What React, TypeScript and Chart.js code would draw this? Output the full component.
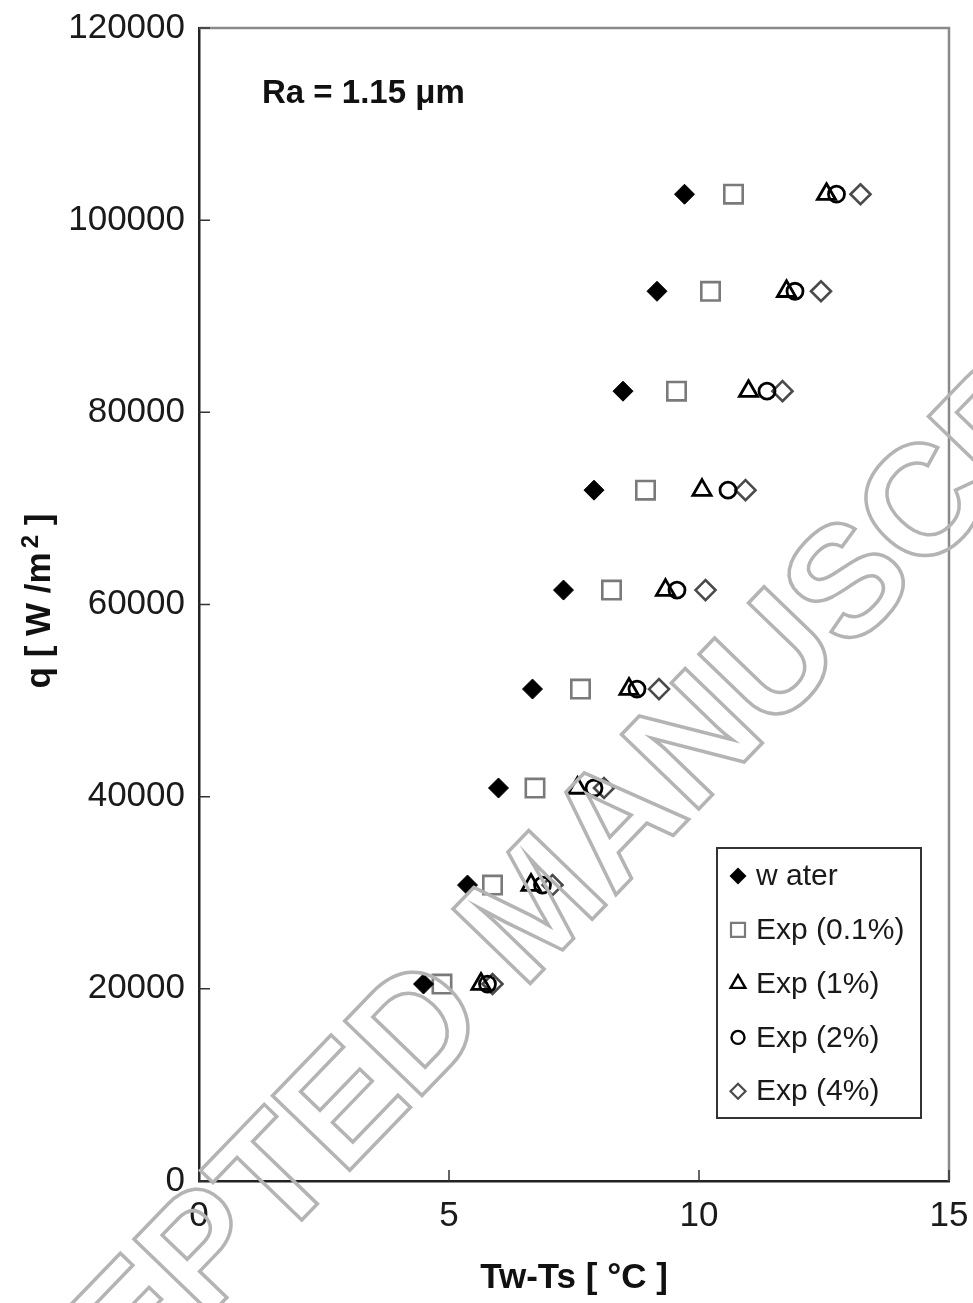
import React, { useEffect, useRef } from 'react';
import { Chart, registerables } from 'chart.js';

Chart.register(...registerables);

// heat flux q [W/m2] for each measured row
const qValues = [20500, 30800, 40900, 51200, 61500, 71900, 82200, 92600, 102700];
// wall superheat Tw-Ts [°C]
const waterT = [4.49, 5.37, 5.99, 6.67, 7.29, 7.9, 8.48, 9.16, 9.71];
const exp01T = [4.86, 5.87, 6.72, 7.63, 8.25, 8.93, 9.55, 10.23, 10.69];
const exp1T = [5.64, 6.64, 7.57, 8.6, 9.33, 10.06, 10.99, 11.75, 12.55];
const exp2T = [5.77, 6.87, 7.9, 8.76, 9.56, 10.58, 11.36, 11.92, 12.75];
const exp4T = [5.87, 7.07, 8.1, 9.2, 10.13, 10.93, 11.67, 12.44, 13.23];

const seriesLabels = ['w ater', 'Exp (0.1%)', 'Exp (1%)', 'Exp (2%)', 'Exp (4%)'];
const xTicks = [0, 5, 10, 15];
const yTicks = [0, 20000, 40000, 60000, 80000, 100000, 120000];
const annotationText = 'Ra = 1.15 \u03bcm';
const yTitleMain = 'q [ W /m';
const yTitleSup = '2';
const yTitleEnd = ' ]';
const xTitle = 'Tw-Ts [ \u00b0C ]';
const watermarkA = 'ACCEPTED';
const watermarkB = 'MANUSCRIPT';

const FONT = '"Liberation Sans", Arial, Helvetica, sans-serif';

const pts = (xs: number[]) => xs.map((x, i) => ({ x, y: qValues[i] }));

function drawMarker(ctx: CanvasRenderingContext2D, kind: number, x: number, y: number) {
  ctx.save();
  ctx.beginPath();
  if (kind === 0) {
    const r = 8.5;
    ctx.moveTo(x - r, y); ctx.lineTo(x, y - r); ctx.lineTo(x + r, y); ctx.lineTo(x, y + r); ctx.closePath();
    ctx.fillStyle = '#000'; ctx.fill();
  } else if (kind === 1) {
    ctx.rect(x - 7, y - 7, 14, 14);
    ctx.strokeStyle = '#7a7a7a'; ctx.lineWidth = 2.2; ctx.stroke();
  } else if (kind === 2) {
    const r = 8.5;
    ctx.moveTo(x, y - r); ctx.lineTo(x + r * 0.866, y + r / 2); ctx.lineTo(x - r * 0.866, y + r / 2); ctx.closePath();
    ctx.strokeStyle = '#000'; ctx.lineWidth = 2.4; ctx.stroke();
  } else if (kind === 3) {
    ctx.arc(x, y, 6.5, 0, Math.PI * 2);
    ctx.strokeStyle = '#000'; ctx.lineWidth = 2.4; ctx.stroke();
  } else {
    const r = 7.5;
    ctx.moveTo(x - r, y); ctx.lineTo(x, y - r); ctx.lineTo(x + r, y); ctx.lineTo(x, y + r); ctx.closePath();
    ctx.strokeStyle = '#4a4a4a'; ctx.lineWidth = 2.2; ctx.stroke();
  }
  ctx.restore();
}

const decorPlugin = {
  id: 'decor',
  afterDraw(chart: any) {
    const { ctx, chartArea } = chart;
    const xs = chart.scales.x;
    const ys = chart.scales.y;
    ctx.save();
    // top and right frame lines (gray)
    ctx.strokeStyle = '#8a8a8a';
    ctx.lineWidth = 2.5;
    ctx.beginPath();
    ctx.moveTo(chartArea.left, chartArea.top);
    ctx.lineTo(chartArea.right, chartArea.top);
    ctx.lineTo(chartArea.right, chartArea.bottom);
    ctx.stroke();
    // inside tick marks
    ctx.strokeStyle = '#333';
    ctx.lineWidth = 1.5;
    ctx.beginPath();
    yTicks.forEach((v) => {
      const py = ys.getPixelForValue(v);
      ctx.moveTo(chartArea.left, py);
      ctx.lineTo(chartArea.left + 11, py);
    });
    xTicks.forEach((v) => {
      const px = xs.getPixelForValue(v);
      ctx.moveTo(px, chartArea.bottom);
      ctx.lineTo(px, chartArea.bottom - 11);
    });
    ctx.stroke();

    // y axis title with superscript
    ctx.save();
    ctx.translate(50, 601);
    ctx.rotate(-Math.PI / 2);
    ctx.fillStyle = '#111';
    ctx.textBaseline = 'alphabetic';
    ctx.textAlign = 'left';
    const bigF = `bold 35px ${FONT}`;
    const supF = `bold 24px ${FONT}`;
    ctx.font = bigF;
    const w1 = ctx.measureText(yTitleMain).width;
    const w3 = ctx.measureText(yTitleEnd).width;
    ctx.font = supF;
    const w2 = ctx.measureText(yTitleSup).width;
    const gap = 4;
    const total = w1 + gap + w2 + w3;
    let sx = -total / 2;
    ctx.font = bigF;
    ctx.fillText(yTitleMain, sx, 0);
    sx += w1 + gap;
    ctx.font = supF;
    ctx.fillText(yTitleSup, sx, -12);
    sx += w2;
    ctx.font = bigF;
    ctx.fillText(yTitleEnd, sx, 0);
    ctx.restore();

    // annotation
    ctx.fillStyle = '#111';
    ctx.font = `bold 33px ${FONT}`;
    ctx.textBaseline = 'alphabetic';
    ctx.textAlign = 'left';
    ctx.fillText(annotationText, chartArea.left + 63, 103);

    // legend box
    const lx = 717, ly = 848, lw = 204, lh = 270;
    ctx.fillStyle = '#fff';
    ctx.fillRect(lx, ly, lw, lh);
    ctx.strokeStyle = '#333';
    ctx.lineWidth = 2;
    ctx.strokeRect(lx, ly, lw, lh);
    ctx.font = `30px ${FONT}`;
    ctx.textBaseline = 'middle';
    seriesLabels.forEach((lab, i) => {
      const yy = 876 + i * 53.8;
      drawMarker(ctx, i, 738, yy);
      ctx.fillStyle = '#1a1a1a';
      ctx.fillText(lab, 756, yy + 1);
    });

    // watermark
    ctx.save();
    ctx.translate(523, 991);
    ctx.rotate(-46 * Math.PI / 180);
    ctx.font = `bold 156px ${FONT}`;
    ctx.textBaseline = 'alphabetic';
    ctx.strokeStyle = '#b4b4b4';
    ctx.lineWidth = 3.5;
    ctx.textAlign = 'right';
    ctx.strokeText(watermarkA, -43, 0);
    ctx.textAlign = 'left';
    ctx.strokeText(watermarkB, 0, 0);
    ctx.restore();

    ctx.restore();
  },
};

export default function App() {
  const ref = useRef<HTMLCanvasElement | null>(null);
  useEffect(() => {
    if (!ref.current) return;
    const chart = new Chart(ref.current, {
      type: 'scatter',
      data: {
        datasets: [
          { label: seriesLabels[0], data: pts(waterT), pointStyle: 'rectRot', radius: 10, backgroundColor: '#000', borderColor: '#000', borderWidth: 1 },
          { label: seriesLabels[1], data: pts(exp01T), pointStyle: 'rect', radius: 13, backgroundColor: 'rgba(0,0,0,0)', borderColor: '#7a7a7a', borderWidth: 2.6 },
          { label: seriesLabels[2], data: pts(exp1T), pointStyle: 'triangle', radius: 10.5, backgroundColor: 'rgba(0,0,0,0)', borderColor: '#000', borderWidth: 2.8 },
          { label: seriesLabels[3], data: pts(exp2T), pointStyle: 'circle', radius: 8, backgroundColor: 'rgba(0,0,0,0)', borderColor: '#000', borderWidth: 2.8 },
          { label: seriesLabels[4], data: pts(exp4T), pointStyle: 'rectRot', radius: 10, backgroundColor: 'rgba(0,0,0,0)', borderColor: '#4a4a4a', borderWidth: 2.6 },
        ],
      },
      options: {
        responsive: false,
        animation: false,
        events: [],
        layout: { padding: { left: 0, top: 28, right: 24, bottom: 0 } },
        plugins: { legend: { display: false }, tooltip: { enabled: false } },
        scales: {
          x: {
            type: 'linear',
            min: 0,
            max: 15,
            afterBuildTicks: (s: any) => { s.ticks = xTicks.map((v) => ({ value: v })); },
            afterFit: (s: any) => { s.height = 122; s.paddingLeft = 0; s.paddingRight = 0; },
            grid: { display: false, drawTicks: false },
            border: { display: true, color: '#222', width: 2.5 },
            ticks: { color: '#1a1a1a', font: { family: FONT, size: 35 }, padding: 14, maxRotation: 0 },
            title: { display: true, text: xTitle, color: '#111', font: { family: FONT, size: 35, weight: 'bold' }, padding: { top: 0, bottom: 4 } },
          },
          y: {
            type: 'linear',
            min: 0,
            max: 120000,
            afterBuildTicks: (s: any) => { s.ticks = yTicks.map((v) => ({ value: v })); },
            afterFit: (s: any) => { s.width = 199; s.paddingTop = 0; s.paddingBottom = 0; },
            grid: { display: false, drawTicks: false },
            border: { display: true, color: '#222', width: 2.5 },
            ticks: { color: '#1a1a1a', font: { family: FONT, size: 35 }, padding: 14, callback: (v: any) => String(v) },
          },
        },
      },
      plugins: [decorPlugin],
    });
    return () => chart.destroy();
  }, []);
  return (
    <div style={{ position: 'absolute', left: 0, top: 0, width: 973, height: 1303, background: '#fff' }}>
      <canvas ref={ref} width={973} height={1303} style={{ display: 'block', width: 973, height: 1303 }} />
    </div>
  );
}
